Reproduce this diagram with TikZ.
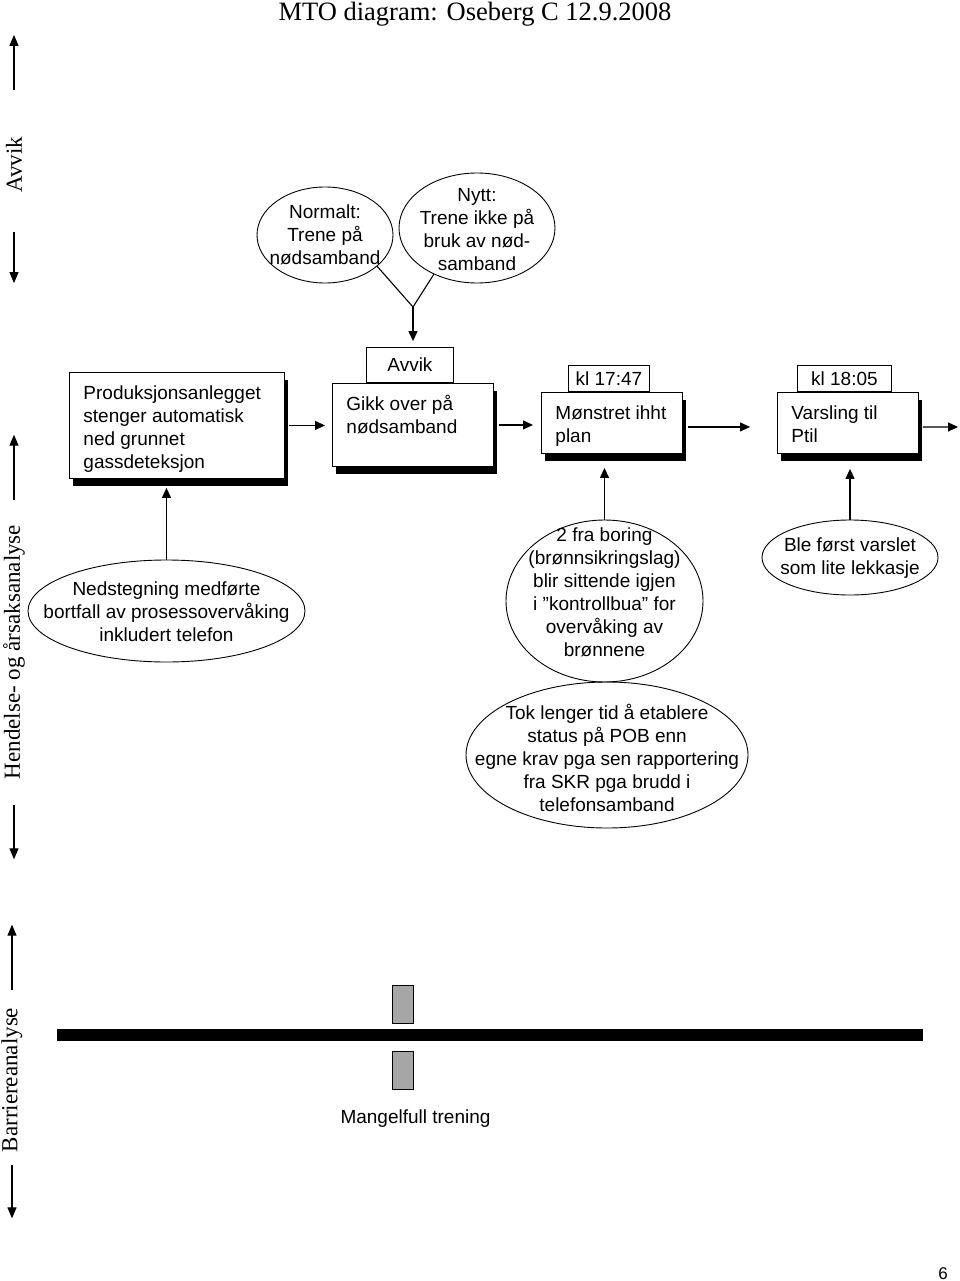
\documentclass[tikz,border=0pt]{standalone}
\usepackage{fontspec}
\setmainfont{Liberation Serif}
\setsansfont{Liberation Sans}
\usetikzlibrary{shapes.geometric,arrows.meta,shadows,calc,positioning}

\definecolor{barriergray}{RGB}{166,166,166}

\tikzset{
  flow/.style={line width=1.1pt, -{Triangle[length=10pt,width=9pt]}},
  sideflow/.style={line width=1.1pt, -{Triangle[length=11pt,width=9pt]}},
  evbox/.style={draw, rectangle, fill=white, line width=0.9pt, inner xsep=14pt, inner ysep=0pt,
    anchor=north west, drop shadow={shadow xshift=4pt, shadow yshift=-8pt, opacity=1, fill=black},
    font=\sffamily\fontsize{19}{23}\selectfont},
  tabbox/.style={draw, rectangle, fill=white, line width=0.9pt, inner sep=0pt, anchor=south,
    font=\sffamily\fontsize{19}{23}\selectfont},
  cause/.style={draw, ellipse, line width=0.9pt, inner sep=0pt},
  causetext/.style={font=\sffamily\fontsize{19}{23}\selectfont, align=center, inner sep=0pt},
  sidelabel/.style={rotate=90, inner sep=0pt, font=\rmfamily\fontsize{23}{27}\selectfont}
}

\newcommand{\evtext}[3]{\begin{minipage}[c][#1][t]{#2}\raggedright\rule{0pt}{27pt}#3\end{minipage}}

\begin{document}
\begin{tikzpicture}[x=1pt, y=-1pt]
  \useasboundingbox (0,0) rectangle (960,1281);

  \node[font=\rmfamily\fontsize{26.5}{30}\selectfont, anchor=base] (title) at (475,21) {MTO diagram: Oseberg C 12.9.2008};

  % side labels
  \node[sidelabel] (avviklab) at (14,165) {Avvik};
  \draw[sideflow] (avviklab.east) ++(0,-47) -- ++(0,-55);
  \draw[sideflow] (avviklab.west) ++(0,39) -- ++(0,51);
  \node[sidelabel] (hendlab) at (14,652) {Hendelse- og årsaksanalyse};
  \draw[sideflow] (hendlab.east) ++(0,-25) -- ++(0,-65);
  \draw[sideflow] (hendlab.west) ++(0,26) -- ++(0,54);
  \node[sidelabel] (barlab) at (12,1080) {Barriereanalyse};
  \draw[sideflow] (barlab.east) ++(0,-18) -- ++(0,-65);
  \draw[sideflow] (barlab.west) ++(0,13) -- ++(0,53);

  % avvik
  \node[cause, minimum width=136pt, minimum height=96pt,
    label={[causetext]center:{Normalt:\\Trene på\\nødsamband}}] (normalt) at (325,235) {};
  \node[cause, minimum width=156pt, minimum height=110pt,
    label={[causetext, yshift=-2pt]center:{Nytt:\\Trene ikke på\\bruk av nød-\\samband}}] (nytt) at (477,228) {};
  \coordinate (join) at (413,307);
  \draw[line width=1.1pt] (normalt.-31) -- (join) -- (nytt.-133);

  % hendelser
  \node[evbox] (prod) at (69,372) {\evtext{106pt}{187pt}{Produksjonsanlegget\\stenger automatisk\\ned grunnet\\gassdeteksjon}};
  \node[evbox] (gikk) at (332,383) {\evtext{83pt}{133pt}{Gikk over på\\nødsamband}};
  \node[evbox] (monstret) at (541,392) {\evtext{61pt}{113pt}{Mønstret ihht\\plan}};
  \node[evbox] (varsling) at (777,392) {\evtext{61pt}{113pt}{Varsling til\\Ptil}};
  \node[tabbox, minimum width=87pt, minimum height=35pt] (gikktab) at ([xshift=-3pt]gikk.north) {Avvik};
  \node[tabbox, minimum width=81pt, minimum height=26pt] (monstrettab) at ([xshift=-3pt]monstret.north) {kl 17:47};
  \node[tabbox, minimum width=94pt, minimum height=26pt] (varslingtab) at ([xshift=-3.5pt]varsling.north) {kl 18:05};
  \coordinate (outend) at (958,427);

  \draw[flow] (join) -- ([yshift=6pt]join |- gikktab.north);
  \draw[flow] ([xshift=4pt]prod.east) -- ([xshift=-7pt]prod.east -| gikk.west);
  \draw[flow] ([xshift=5pt]gikk.east) -- ([xshift=-8pt]gikk.east -| monstret.west);
  \draw[flow] ([shift={(5,4)}]monstret.east) -- ([shift={(-27,4)}]monstret.east -| varsling.west);
  \draw[flow] ([shift={(4,4)}]varsling.east) -- (outend);

  % aarsaker
  \node[cause, minimum width=277pt, minimum height=102pt,
    label={[causetext, yshift=-1pt]center:{Nedstegning medførte\\bortfall av prosessovervåking\\inkludert telefon}}] (nedst) at (166.5,611) {};
  \node[cause, minimum width=197pt, minimum height=162pt,
    label={[causetext, yshift=8.5pt]center:{2 fra boring\\(brønnsikringslag)\\ blir sittende igjen\\i ”kontrollbua” for\\overvåking av\\brønnene}}] (boring) at (604.5,601) {};
  \node[cause, minimum width=282pt, minimum height=146pt,
    label={[causetext, yshift=-2.5pt]center:{Tok lenger tid å etablere\\status på POB enn\\egne krav pga sen rapportering\\fra SKR pga brudd i\\telefonsamband}}] (toklenger) at (607,755) {};
  \node[cause, minimum width=176pt, minimum height=75pt,
    label={[causetext, yshift=-1pt]center:{Ble først varslet\\som lite lekkasje}}] (blefoerst) at (850,557.5) {};

  \draw[flow] (nedst.north) -- ($(nedst.north |- prod.south)+(0,9)$);
  \draw[flow] (boring.north) -- ($(boring.north |- monstret.south)+(0,14)$);
  \draw[flow] (blefoerst.north) -- ($(blefoerst.north |- varsling.south)+(0,15)$);

  % barriere
  \fill (57,1029) rectangle (923,1041);
  \filldraw[fill=barriergray, line width=0.8pt] (392,985) rectangle (413,1023);
  \filldraw[fill=barriergray, line width=0.8pt] (392,1051) rectangle (413,1089);
  \node[font=\sffamily\fontsize{19}{23}\selectfont] (mangel) at (415.5,1119) {Mangelfull trening};

  \node[font=\sffamily\fontsize{17}{20}\selectfont, anchor=base] (pageno) at (943,1279) {6};
\end{tikzpicture}
\end{document}
